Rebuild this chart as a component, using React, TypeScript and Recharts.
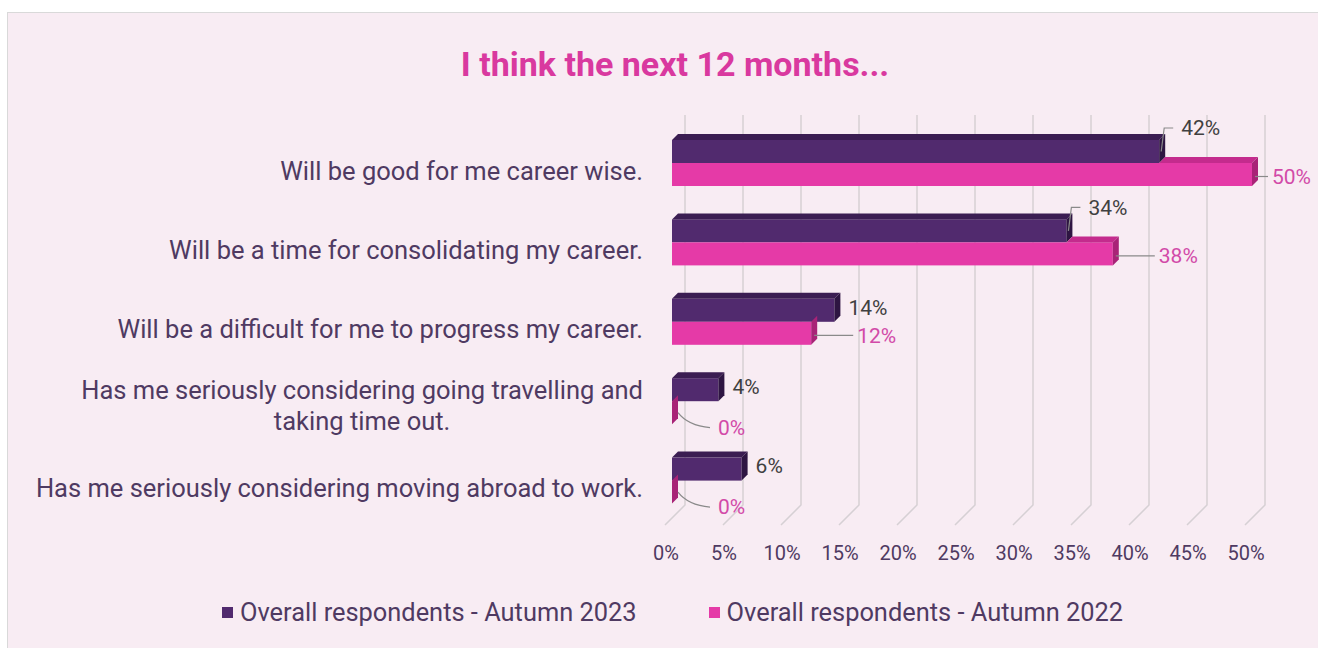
import React from "react";
import { BarChart, Bar, XAxis, YAxis, CartesianGrid, LabelList } from "recharts";

const categories = [
  "Will be good for me career wise.",
  "Will be a time for consolidating my career.",
  "Will be a difficult for me to progress my career.",
  "Has me seriously considering going travelling and\ntaking time out.",
  "Has me seriously considering moving abroad to work.",
];
const autumn2023 = [42, 34, 14, 4, 6];
const autumn2022 = [50, 38, 12, 0, 0];
const xTicks = [0, 5, 10, 15, 20, 25, 30, 35, 40, 45, 50];
const seriesNames = ["Overall respondents - Autumn 2023", "Overall respondents - Autumn 2022"];

const data = categories.map((name, i) => ({
  name,
  a23: autumn2023[i],
  a22: autumn2022[i],
}));

const FONT = "Roboto, sans-serif";
const PURPLE = "#512a6e";
const PINK = "#e53aa7";
const TEXT = "#4f3a62";
const DEPTH = 6;

let canvasCtx: CanvasRenderingContext2D | null = null;
function textWidth(s: string, font: string) {
  if (!canvasCtx) canvasCtx = document.createElement("canvas").getContext("2d");
  if (!canvasCtx) return s.length * 12;
  canvasCtx.font = font;
  return canvasCtx.measureText(s).width;
}

function PurpleBar(props: any) {
  const { x, y, width: w, height: h } = props;
  const d = DEPTH;
  return (
    <g>
      <rect x={x} y={y} width={w} height={h} fill={PURPLE} />
      <polygon points={`${x},${y} ${x + d},${y - d} ${x + w + d},${y - d} ${x + w},${y}`} fill="#3b1d52" />
      <polygon points={`${x + w},${y} ${x + w + d},${y - d} ${x + w + d},${y + h - d} ${x + w},${y + h}`} fill="#2e1542" />
    </g>
  );
}

function PinkBar(props: any) {
  const { x, y, width: w, height: h, payload } = props;
  const d = DEPTH;
  const perUnit = payload.a22 > 0 ? w / payload.a22 : 0;
  const topStart = Math.min(x + w, x + payload.a23 * perUnit);
  return (
    <g>
      <rect x={x} y={y} width={w} height={h} fill={PINK} />
      {w > 0 && topStart < x + w && (
        <polygon points={`${topStart},${y} ${topStart + d},${y - d} ${x + w + d},${y - d} ${x + w},${y}`} fill="#c42b8d" />
      )}
      <polygon points={`${x + w},${y} ${x + w + d},${y - d} ${x + w + d},${y + h - d} ${x + w},${y + h}`} fill="#a82377" />
    </g>
  );
}

function PurpleLabel(props: any) {
  const { x, y, width: w, height: h, value } = props;
  const end = x + w + DEPTH;
  if (value >= 30) {
    const ty = y - 12;
    return (
      <g>
        <path d={`M${end - 4},${y + h / 2} L${end - 1},${ty} L${end + 8},${ty}`} stroke="#8a8a8a" strokeWidth={1.2} fill="none" />
        <text x={end + 16} y={ty} dy="0.35em" fontFamily={FONT} fontSize={21} fill="#404040">{`${value}%`}</text>
      </g>
    );
  }
  return (
    <text x={end + 8} y={y + h / 2 - 3} dy="0.35em" fontFamily={FONT} fontSize={21} fill="#404040">{`${value}%`}</text>
  );
}

function PinkLabel(props: any) {
  const { x, y, width: w, height: h, value } = props;
  const end = x + w + DEPTH;
  if (value === 0) {
    const ty = y + h / 2 + 15;
    return (
      <g>
        <path d={`M${end},${y + h / 2} Q${end + 10},${ty - 2} ${end + 32},${ty}`} stroke="#8a8a8a" strokeWidth={1.2} fill="none" />
        <text x={end + 40} y={ty} dy="0.35em" fontFamily={FONT} fontSize={21} fill="#d24aa8">0%</text>
      </g>
    );
  }
  const tx = end + (value >= 45 ? 14 : 40);
  const ty = y + h / 2 + 2;
  return (
    <g>
      <line x1={end - 3} y1={ty} x2={tx - 4} y2={ty} stroke="#8a8a8a" strokeWidth={1.2} />
      <text x={tx} y={ty} dy="0.35em" fontFamily={FONT} fontSize={21} fill="#d24aa8">{`${value}%`}</text>
    </g>
  );
}

function CategoryTick(props: any) {
  const { y, payload } = props;
  const lines = String(payload.value).split("\n");
  const right = 643;
  const size = 25.5;
  if (lines.length === 1) {
    return (
      <text x={right} y={y + 8} dy="0.35em" textAnchor="end" fontFamily={FONT} fontSize={size} fill={TEXT}>
        {lines[0]}
      </text>
    );
  }
  const w1 = textWidth(lines[0], `${size}px Roboto`);
  const cx = right - w1 / 2;
  return (
    <text x={cx} y={y + 5 - 15.5} textAnchor="middle" fontFamily={FONT} fontSize={size} fill={TEXT}>
      {lines.map((l, i) => (
        <tspan key={i} x={cx} dy={i === 0 ? "0.35em" : 31}>{l}</tspan>
      ))}
    </text>
  );
}

function PercentTick(props: any) {
  const { x, y, payload } = props;
  return (
    <text x={x - 6} y={y + 32} textAnchor="middle" fontFamily={FONT} fontSize={20} fill={TEXT}>
      {`${payload.value}%`}
    </text>
  );
}

function GridLine(props: any) {
  const { x1, y1, y2, index } = props;
  const bx = x1 + 13;
  return (
    <path
      key={`g-${index}`}
      d={`M${bx},${y1 - 8} L${bx},${y2 - 15} L${x1 - 7},${y2 + 5}`}
      stroke="#d6d0d4"
      strokeWidth={1.5}
      fill="none"
    />
  );
}

function ChartLegend() {
  const colors = [PURPLE, PINK];
  return (
    <div
      style={{
        position: "absolute",
        top: 597,
        left: 222,
        display: "flex",
        gap: 72,
        fontFamily: FONT,
      }}
    >
      {seriesNames.map((label, i) => (
        <div key={label} style={{ display: "flex", alignItems: "center", fontSize: 25.4, color: TEXT }}>
          <span style={{ display: "inline-block", width: 11, height: 11, background: colors[i], marginRight: 7 }} />
          {label}
        </div>
      ))}
    </div>
  );
}

export default function App() {
  return (
    <div style={{ position: "absolute", left: 0, top: 0, width: 1318, height: 648, background: "#ffffff", overflow: "hidden" }}>
      <div
        style={{
          position: "absolute",
          left: 7,
          top: 12,
          width: 1320,
          height: 650,
          background: "#f8ecf3",
          border: "1px solid #d9d9d9",
        }}
      />
      <div
        style={{
          position: "absolute",
          left: 275,
          top: 44,
          width: 800,
          textAlign: "center",
          fontFamily: FONT,
          fontWeight: 700,
          fontSize: 34,
          color: "#d9399f",
          lineHeight: "40px",
        }}
      >
        I think the next 12 months...
      </div>
      <div style={{ position: "absolute", left: 0, top: 0 }}>
        <BarChart
          width={1318}
          height={648}
          data={data}
          layout="vertical"
          margin={{ top: 123, right: 66, bottom: 108, left: 0 }}
          barSize={23}
          barGap={0}
        >
          <CartesianGrid horizontal={false} vertical={GridLine} />
          <XAxis
            type="number"
            domain={[0, 50]}
            ticks={xTicks}
            axisLine={false}
            tickLine={false}
            tick={PercentTick}
            height={20}
          />
          <YAxis
            type="category"
            dataKey="name"
            width={672}
            axisLine={false}
            tickLine={false}
            tick={CategoryTick}
            interval={0}
          />
          <Bar dataKey="a23" name={seriesNames[0]} fill={PURPLE} shape={PurpleBar} isAnimationActive={false}>
            <LabelList dataKey="a23" content={PurpleLabel} />
          </Bar>
          <Bar dataKey="a22" name={seriesNames[1]} fill={PINK} shape={PinkBar} isAnimationActive={false}>
            <LabelList dataKey="a22" content={PinkLabel} />
          </Bar>
        </BarChart>
      </div>
      <ChartLegend />
    </div>
  );
}
